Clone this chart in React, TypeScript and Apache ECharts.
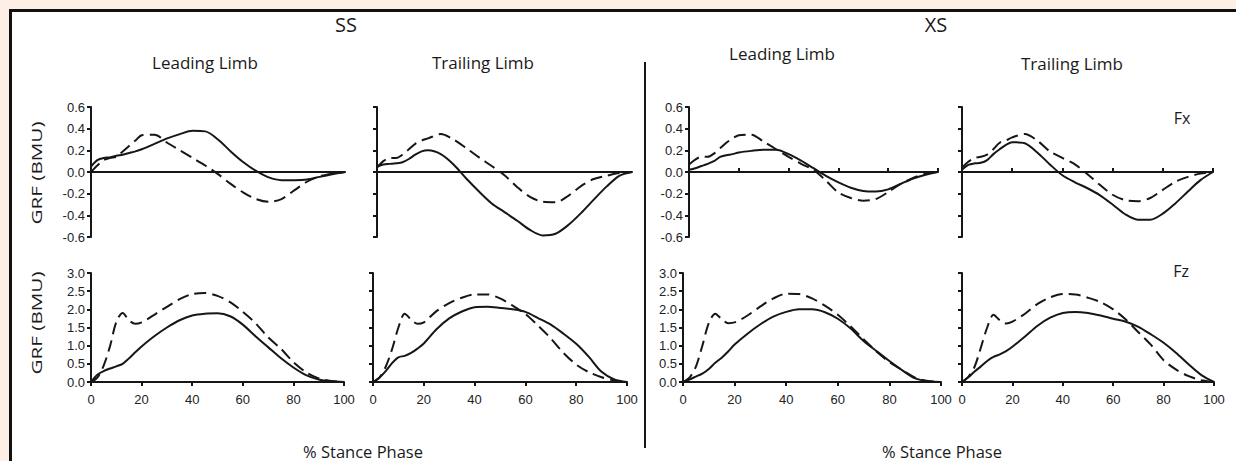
import React, { useEffect, useRef } from "react";
import * as echarts from "echarts";

// % stance phase sample points (shared by every curve)
const X = [0, 2.5, 5, 7.5, 10, 12.5, 15, 17.5, 20, 25, 30, 35, 40, 45, 50, 55, 60, 65, 70, 75, 80, 85, 90, 95, 100];

const X_TICKS = ["0", "20", "40", "60", "80", "100"];
const FX_TICKS = ["-0.6", "-0.4", "-0.2", "0.0", "0.2", "0.4", "0.6"];
const FZ_TICKS = ["0.0", "0.5", "1.0", "1.5", "2.0", "2.5", "3.0"];

// SS Leading limb
const ssLeadFxSolid = [0.05, 0.11, 0.13, 0.135, 0.15, 0.16, 0.175, 0.19, 0.21, 0.26, 0.31, 0.35, 0.38, 0.375, 0.3, 0.19, 0.09, 0.01, -0.05, -0.075, -0.075, -0.07, -0.045, -0.02, 0];
const ssLeadFxDashed = [0, 0.06, 0.11, 0.13, 0.14, 0.19, 0.24, 0.29, 0.34, 0.345, 0.27, 0.2, 0.13, 0.06, -0.02, -0.11, -0.19, -0.25, -0.275, -0.25, -0.17, -0.09, -0.04, -0.015, 0];
const ssLeadFzSolid = [0, 0.2, 0.3, 0.37, 0.43, 0.5, 0.65, 0.82, 0.98, 1.26, 1.5, 1.7, 1.83, 1.88, 1.89, 1.81, 1.58, 1.26, 0.96, 0.66, 0.4, 0.19, 0.07, 0.02, 0];
const ssLeadFzDashed = [0, 0.12, 0.45, 0.98, 1.65, 1.9, 1.7, 1.6, 1.64, 1.85, 2.07, 2.28, 2.42, 2.45, 2.37, 2.2, 1.93, 1.62, 1.23, 0.92, 0.55, 0.27, 0.1, 0.03, 0];

// SS Trailing limb
const ssTrailFxSolid = [0.05, 0.07, 0.075, 0.08, 0.09, 0.12, 0.16, 0.19, 0.2, 0.165, 0.07, -0.06, -0.18, -0.29, -0.37, -0.45, -0.535, -0.585, -0.57, -0.49, -0.38, -0.255, -0.135, -0.035, 0];
const ssTrailFxDashed = [0.04, 0.1, 0.13, 0.13, 0.16, 0.21, 0.26, 0.29, 0.31, 0.35, 0.3, 0.22, 0.135, 0.055, -0.03, -0.14, -0.23, -0.275, -0.28, -0.22, -0.13, -0.065, -0.035, -0.01, 0];
const ssTrailFzSolid = [0, 0.12, 0.3, 0.52, 0.68, 0.72, 0.8, 0.92, 1.06, 1.45, 1.75, 1.94, 2.06, 2.07, 2.04, 2.0, 1.93, 1.76, 1.58, 1.33, 1.05, 0.69, 0.28, 0.07, 0];
const ssTrailFzDashed = [0, 0.12, 0.42, 0.9, 1.5, 1.88, 1.72, 1.6, 1.64, 1.95, 2.17, 2.32, 2.41, 2.41, 2.3, 2.1, 1.87, 1.55, 1.2, 0.8, 0.48, 0.27, 0.13, 0.04, 0];

// XS Leading limb
const xsLeadFxSolid = [0.02, 0.035, 0.055, 0.075, 0.1, 0.14, 0.155, 0.165, 0.18, 0.195, 0.205, 0.205, 0.165, 0.105, 0.035, -0.035, -0.095, -0.145, -0.175, -0.18, -0.16, -0.11, -0.06, -0.025, 0];
const xsLeadFxDashed = [0.07, 0.115, 0.14, 0.14, 0.17, 0.22, 0.27, 0.31, 0.34, 0.345, 0.28, 0.21, 0.14, 0.075, 0.02, -0.08, -0.19, -0.24, -0.265, -0.25, -0.185, -0.11, -0.055, -0.015, 0];
const xsLeadFzSolid = [0, 0.07, 0.15, 0.23, 0.36, 0.53, 0.67, 0.84, 1.03, 1.33, 1.59, 1.8, 1.93, 2.0, 2.0, 1.92, 1.74, 1.47, 1.13, 0.85, 0.58, 0.32, 0.1, 0.02, 0];
const xsLeadFzDashed = [0, 0.12, 0.42, 1.0, 1.62, 1.88, 1.73, 1.62, 1.64, 1.83, 2.08, 2.3, 2.43, 2.42, 2.3, 2.1, 1.85, 1.53, 1.18, 0.84, 0.55, 0.33, 0.12, 0.03, 0];

// XS Trailing limb
const xsTrailFxSolid = [0.02, 0.065, 0.08, 0.085, 0.11, 0.165, 0.21, 0.25, 0.275, 0.265, 0.18, 0.07, -0.03, -0.095, -0.15, -0.215, -0.3, -0.39, -0.44, -0.44, -0.385, -0.29, -0.18, -0.075, 0];
const xsTrailFxDashed = [0.04, 0.095, 0.13, 0.14, 0.16, 0.21, 0.27, 0.29, 0.32, 0.35, 0.29, 0.19, 0.13, 0.07, -0.02, -0.12, -0.21, -0.26, -0.27, -0.24, -0.165, -0.09, -0.045, -0.015, 0];
const xsTrailFzSolid = [0, 0.13, 0.29, 0.43, 0.58, 0.69, 0.76, 0.85, 0.97, 1.25, 1.55, 1.77, 1.9, 1.93, 1.9, 1.83, 1.74, 1.66, 1.52, 1.31, 1.08, 0.8, 0.48, 0.19, 0];
const xsTrailFzDashed = [0, 0.14, 0.42, 0.95, 1.5, 1.85, 1.7, 1.61, 1.66, 1.88, 2.15, 2.33, 2.42, 2.41, 2.32, 2.2, 2.0, 1.72, 1.37, 1.02, 0.6, 0.34, 0.16, 0.05, 0];

const GROUPS = ["SS", "XS"];
const LIMBS = ["Leading Limb", "Trailing Limb", "Leading Limb", "Trailing Limb"];
const Y_TITLE = "GRF (BMU)";
const X_TITLE = "% Stance Phase";
const ROW_LABELS = ["Fx", "Fz"];

const PANEL_DATA = [
  { fx: [ssLeadFxSolid, ssLeadFxDashed], fz: [ssLeadFzSolid, ssLeadFzDashed] },
  { fx: [ssTrailFxSolid, ssTrailFxDashed], fz: [ssTrailFzSolid, ssTrailFzDashed] },
  { fx: [xsLeadFxSolid, xsLeadFxDashed], fz: [xsLeadFzSolid, xsLeadFzDashed] },
  { fx: [xsTrailFxSolid, xsTrailFxDashed], fz: [xsTrailFzSolid, xsTrailFzDashed] },
];

// layout (pixels)
const LAYOUT = [
  { fxLeft: 91, fxWidth: 254, fzLeft: 91, fzWidth: 253, yLabels: true, fxTicks: false },
  { fxLeft: 377, fxWidth: 255, fzLeft: 373, fzWidth: 254, yLabels: false, fxTicks: false },
  { fxLeft: 689, fxWidth: 249, fzLeft: 683, fzWidth: 258, yLabels: true, fxTicks: true },
  { fxLeft: 962, fxWidth: 251, fzLeft: 962, fzWidth: 252, yLabels: false, fxTicks: true },
];
const FX_TOP = 107;
const FX_H = 130;
const FZ_TOP = 273;
const FZ_H = 109;

const INK = "#161616";
const LABEL_FONT = "'Liberation Sans', Arial, sans-serif";
const TITLE_FONT = "'Open Sans', 'Noto Sans', sans-serif";

function buildOption() {
  const grid: any[] = [];
  const xAxis: any[] = [];
  const yAxis: any[] = [];
  const series: any[] = [];

  const axisLine = { show: true, lineStyle: { color: INK, width: 2 } };
  const tickStyle = { color: INK, width: 2 };

  LAYOUT.forEach((p, i) => {
    // Fx grid
    const gFx = grid.length;
    grid.push({ left: p.fxLeft, top: FX_TOP, width: p.fxWidth, height: FX_H, containLabel: false });
    xAxis.push({
      type: "value", gridIndex: gFx, min: 0, max: 100, interval: 20,
      axisLine: { ...axisLine, onZero: true },
      axisTick: { show: p.fxTicks, inside: true, length: 4, lineStyle: tickStyle },
      axisLabel: { show: false },
      splitLine: { show: false },
    });
    yAxis.push({
      type: "value", gridIndex: gFx, min: -0.6, max: 0.6, interval: 0.2,
      axisLine: { ...axisLine, onZero: false },
      axisTick: { show: true, length: 4, lineStyle: tickStyle },
      axisLabel: {
        show: p.yLabels, margin: 6, fontSize: 13, color: "#222", fontFamily: LABEL_FONT,
        formatter: (v: number) => {
          const idx = Math.round((v + 0.6) / 0.2);
          return FX_TICKS[idx] ?? v.toFixed(1);
        },
      },
      splitLine: { show: false },
    });
    const fx = PANEL_DATA[i].fx;
    fx.forEach((ys, k) => {
      series.push({
        type: "line", xAxisIndex: gFx, yAxisIndex: gFx,
        data: X.map((x, j) => [x, ys[j]]),
        showSymbol: false, symbol: "none", smooth: 0.3,
        lineStyle: { color: INK, width: 2, type: k === 0 ? "solid" : [12, 6] },
        z: 3,
      });
    });

    // Fz grid
    const gFz = grid.length;
    grid.push({ left: p.fzLeft, top: FZ_TOP, width: p.fzWidth, height: FZ_H, containLabel: false });
    xAxis.push({
      type: "value", gridIndex: gFz, min: 0, max: 100, interval: 20,
      axisLine: { ...axisLine, onZero: false },
      axisTick: { show: true, length: 4, lineStyle: tickStyle },
      axisLabel: {
        show: true, margin: 11, fontSize: 13, color: "#222", fontFamily: LABEL_FONT,
        formatter: (v: number) => X_TICKS[Math.round(v / 20)] ?? String(v),
      },
      splitLine: { show: false },
    });
    yAxis.push({
      type: "value", gridIndex: gFz, min: 0, max: 3, interval: 0.5,
      axisLine: { ...axisLine, onZero: false },
      axisTick: { show: true, length: 4, lineStyle: tickStyle },
      axisLabel: {
        show: p.yLabels, margin: 6, fontSize: 13, color: "#222", fontFamily: LABEL_FONT,
        formatter: (v: number) => FZ_TICKS[Math.round(v / 0.5)] ?? v.toFixed(1),
      },
      splitLine: { show: false },
    });
    const fz = PANEL_DATA[i].fz;
    fz.forEach((ys, k) => {
      series.push({
        type: "line", xAxisIndex: gFz, yAxisIndex: gFz,
        data: X.map((x, j) => [x, ys[j]]),
        showSymbol: false, symbol: "none", smooth: 0.3,
        lineStyle: { color: INK, width: 2, type: k === 0 ? "solid" : [12, 6] },
        z: 3,
      });
    });
  });

  const txt = (text: string, x: number, y: number, size: number, extra: any = {}) => ({
    type: "text", x, y, silent: true, ...extra,
    style: {
      text, fill: "#1a1a1a", font: `${size}px ${TITLE_FONT}`,
      textAlign: "center", textVerticalAlign: "middle",
    },
  });

  const graphic: any[] = [
    txt(GROUPS[0], 346, 24, 20),
    txt(GROUPS[1], 936, 24, 20),
    txt(LIMBS[0], 205, 62, 17),
    txt(LIMBS[1], 483, 62, 17),
    txt(LIMBS[2], 782, 53, 17),
    txt(LIMBS[3], 1072, 63, 17),
    txt(ROW_LABELS[0], 1182, 118, 16),
    txt(ROW_LABELS[1], 1181, 271, 16),
    txt(Y_TITLE, 36, 173, 15, { rotation: Math.PI / 2, scaleX: 1.38 }),
    txt(Y_TITLE, 36, 323, 15, { rotation: Math.PI / 2, scaleX: 1.38 }),
    txt(X_TITLE, 363, 451, 16.5),
    txt(X_TITLE, 942, 451, 16.5),
    {
      type: "line", silent: true,
      shape: { x1: 645, y1: 62, x2: 645, y2: 448 },
      style: { stroke: INK, lineWidth: 2 },
    },
  ];

  return {
    animation: false,
    backgroundColor: "transparent",
    grid, xAxis, yAxis, series, graphic,
  };
}

export default function App() {
  const ref = useRef<HTMLDivElement>(null);
  useEffect(() => {
    if (!ref.current) return;
    const chart = echarts.init(ref.current, null, { renderer: "svg" });
    chart.setOption(buildOption() as any);
    return () => chart.dispose();
  }, []);

  return (
    <div style={{ position: "fixed", left: 0, top: 0, width: 1236, height: 461, background: "#fdefe6", overflow: "hidden" }}>
      <div
        style={{
          position: "absolute", left: 9, top: 9, width: 1240, height: 470,
          background: "#ffffff", borderLeft: "3px solid #111", borderTop: "3px solid #111",
        }}
      />
      <div ref={ref} style={{ position: "absolute", left: 0, top: 0, width: 1236, height: 461 }} />
    </div>
  );
}
